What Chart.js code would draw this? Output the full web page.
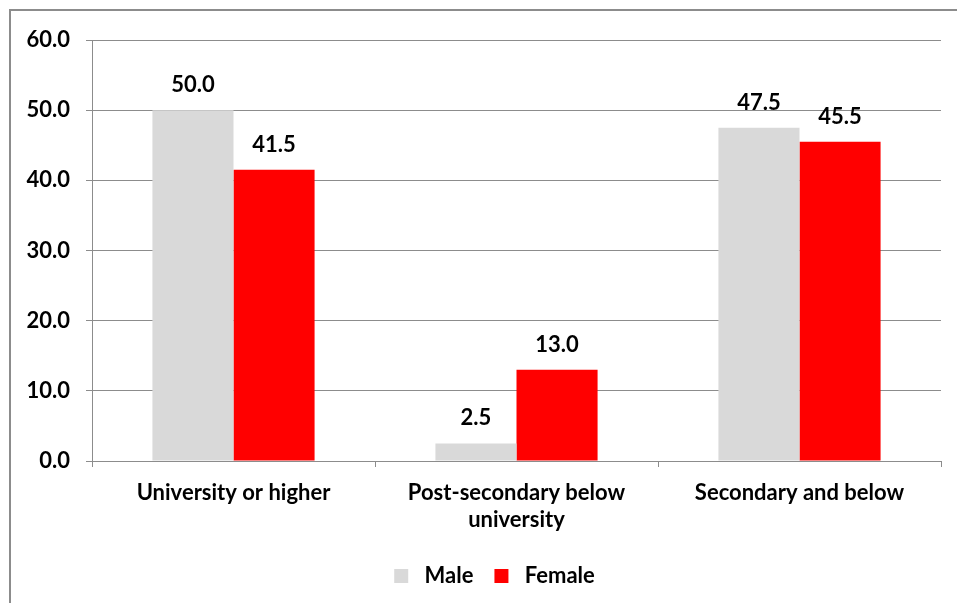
<!DOCTYPE html>
<html>
<head>
<meta charset="utf-8">
<script src="https://cdn.jsdelivr.net/npm/chart.js@4"></script>
<style>
  html, body { margin: 0; padding: 0; background: #fff; }
  #wrap { position: relative; width: 957px; height: 603px; overflow: hidden; }
  #frame { position: absolute; left: 9px; top: 9px; width: 1000px; height: 700px; border: 2px solid #8c8c8c; box-sizing: border-box; }
  canvas { position: absolute; left: 0; top: 0; }
</style>
</head>
<body>
<div id="wrap">
  <div id="frame"></div>
  <canvas id="c" width="957" height="603"></canvas>
</div>
<script>
const categories = ['University or higher', ['Post-secondary below', 'university'], 'Secondary and below'];
const maleValues = [50.0, 2.5, 47.5];
const femaleValues = [41.5, 13.0, 45.5];
const seriesNames = ['Male', 'Female'];
const yTicks = { min: 0, max: 60, step: 10 };

const FONT = 'Lato, "Open Sans", sans-serif';
const FS = 22;
const GRID = '#8c8c8c';

const valueLabels = {
  id: 'valueLabels',
  afterDatasetsDraw(chart) {
    const ctx = chart.ctx;
    ctx.save();
    ctx.font = 'bold ' + FS + 'px ' + FONT;
    ctx.fillStyle = '#000';
    ctx.textAlign = 'center';
    ctx.textBaseline = 'alphabetic';
    chart.data.datasets.forEach((ds, i) => {
      const meta = chart.getDatasetMeta(i);
      meta.data.forEach((el, j) => {
        ctx.fillText(ds.data[j].toFixed(1), el.x, el.y - 18);
      });
    });
    ctx.restore();
  }
};

const legendShift = {
  id: 'legendShift',
  afterLayout(chart) {
    if (chart.legend) { chart.legend.left += 24; chart.legend.right += 24; }
  }
};

new Chart(document.getElementById('c'), {
  type: 'bar',
  data: {
    labels: categories,
    datasets: [
      { label: seriesNames[0], data: maleValues, backgroundColor: '#d9d9d9', borderWidth: 0 },
      { label: seriesNames[1], data: femaleValues, backgroundColor: '#ff0000', borderWidth: 0 }
    ]
  },
  options: {
    responsive: false,
    animation: false,
    devicePixelRatio: 1,
    layout: { padding: { top: 40, right: 16, left: 0, bottom: 6 } },
    datasets: { bar: { categoryPercentage: 0.573, barPercentage: 1.0 } },
    plugins: {
      legend: {
        position: 'bottom',
        labels: {
          font: { family: FONT, size: FS, weight: 'bold' },
          color: '#000',
          boxWidth: 14,
          boxHeight: 14,
          padding: 21,
          generateLabels(chart) {
            const items = Chart.defaults.plugins.legend.labels.generateLabels(chart);
            items.forEach(it => { it.text = ' ' + it.text; it.lineWidth = 0; });
            return items;
          }
        }
      },
      tooltip: { enabled: false }
    },
    scales: {
      x: {
        grid: { drawOnChartArea: false, color: GRID, tickLength: 6, offset: true },
        border: { display: false },
        ticks: { font: { family: FONT, size: FS, weight: 'bold' }, color: '#000', padding: 13, maxRotation: 0 },
        afterFit(scale) { scale.height = 83; }
      },
      y: {
        min: yTicks.min, max: yTicks.max,
        grid: { color: GRID, tickLength: 6 },
        border: { display: true, color: GRID },
        ticks: { stepSize: yTicks.step, font: { family: FONT, size: FS, weight: 'bold' }, color: '#000', padding: 16,
                 callback: v => v.toFixed(1) },
        afterFit(scale) { scale.width = 92; }
      }
    }
  },
  plugins: [valueLabels, legendShift]
});
</script>
</body>
</html>
